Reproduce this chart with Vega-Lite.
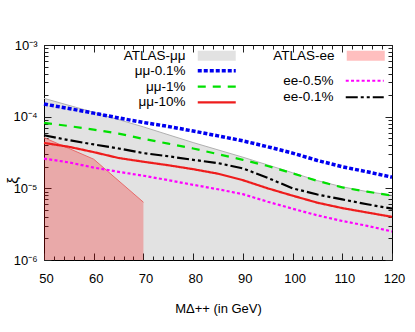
{
  "$schema": "https://vega.github.io/schema/vega-lite/v6.json",
  "width": 348,
  "height": 215,
  "autosize": {"type": "none"},
  "padding": {"left": 44, "top": 45, "right": 23, "bottom": 72},
  "datasets": {
    "atlasmm": [
      {"band": "ATLAS-μμ", "m": 50, "xi": 1.8e-4},
      {"band": "ATLAS-μμ", "m": 60, "xi": 1.15e-4},
      {"band": "ATLAS-μμ", "m": 70, "xi": 7.2e-5},
      {"band": "ATLAS-μμ", "m": 80, "xi": 4.35e-5},
      {"band": "ATLAS-μμ", "m": 90, "xi": 2.72e-5},
      {"band": "ATLAS-μμ", "m": 95, "xi": 2.12e-5},
      {"band": "ATLAS-μμ", "m": 100, "xi": 1.65e-5},
      {"band": "ATLAS-μμ", "m": 105, "xi": 1.28e-5},
      {"band": "ATLAS-μμ", "m": 110, "xi": 1.05e-5},
      {"band": "ATLAS-μμ", "m": 115, "xi": 9.0e-6},
      {"band": "ATLAS-μμ", "m": 120, "xi": 8.0e-6}
    ],
    "atlasee": [
      {"band": "ATLAS-ee", "m": 50, "xi": 5.1e-5},
      {"band": "ATLAS-ee", "m": 60, "xi": 2.55e-5},
      {"band": "ATLAS-ee", "m": 70, "xi": 6.4e-6}
    ],
    "mm": [
      {"series": "μμ-0.1%", "m": 50, "xi": 1.5e-4},
      {"series": "μμ-0.1%", "m": 55, "xi": 1.3e-4},
      {"series": "μμ-0.1%", "m": 60, "xi": 1.12e-4},
      {"series": "μμ-0.1%", "m": 65, "xi": 9.6e-5},
      {"series": "μμ-0.1%", "m": 70, "xi": 8.3e-5},
      {"series": "μμ-0.1%", "m": 75, "xi": 7.3e-5},
      {"series": "μμ-0.1%", "m": 80, "xi": 6.3e-5},
      {"series": "μμ-0.1%", "m": 85, "xi": 5.4e-5},
      {"series": "μμ-0.1%", "m": 90, "xi": 4.6e-5},
      {"series": "μμ-0.1%", "m": 95, "xi": 3.8e-5},
      {"series": "μμ-0.1%", "m": 100, "xi": 3.1e-5},
      {"series": "μμ-0.1%", "m": 105, "xi": 2.45e-5},
      {"series": "μμ-0.1%", "m": 110, "xi": 2.0e-5},
      {"series": "μμ-0.1%", "m": 115, "xi": 1.7e-5},
      {"series": "μμ-0.1%", "m": 120, "xi": 1.43e-5},
      {"series": "μμ-1%", "m": 50, "xi": 8.2e-5},
      {"series": "μμ-1%", "m": 55, "xi": 7.4e-5},
      {"series": "μμ-1%", "m": 60, "xi": 6.6e-5},
      {"series": "μμ-1%", "m": 65, "xi": 5.8e-5},
      {"series": "μμ-1%", "m": 70, "xi": 4.9e-5},
      {"series": "μμ-1%", "m": 75, "xi": 4.2e-5},
      {"series": "μμ-1%", "m": 80, "xi": 3.6e-5},
      {"series": "μμ-1%", "m": 85, "xi": 3.0e-5},
      {"series": "μμ-1%", "m": 90, "xi": 2.5e-5},
      {"series": "μμ-1%", "m": 95, "xi": 2.05e-5},
      {"series": "μμ-1%", "m": 100, "xi": 1.62e-5},
      {"series": "μμ-1%", "m": 105, "xi": 1.27e-5},
      {"series": "μμ-1%", "m": 110, "xi": 1.03e-5},
      {"series": "μμ-1%", "m": 115, "xi": 9.0e-6},
      {"series": "μμ-1%", "m": 120, "xi": 7.9e-6},
      {"series": "μμ-10%", "m": 50, "xi": 4.3e-5},
      {"series": "μμ-10%", "m": 55, "xi": 3.8e-5},
      {"series": "μμ-10%", "m": 60, "xi": 3.2e-5},
      {"series": "μμ-10%", "m": 65, "xi": 2.65e-5},
      {"series": "μμ-10%", "m": 70, "xi": 2.35e-5},
      {"series": "μμ-10%", "m": 75, "xi": 2.1e-5},
      {"series": "μμ-10%", "m": 80, "xi": 1.85e-5},
      {"series": "μμ-10%", "m": 85, "xi": 1.6e-5},
      {"series": "μμ-10%", "m": 90, "xi": 1.3e-5},
      {"series": "μμ-10%", "m": 95, "xi": 1.0e-5},
      {"series": "μμ-10%", "m": 100, "xi": 7.9e-6},
      {"series": "μμ-10%", "m": 105, "xi": 6.3e-6},
      {"series": "μμ-10%", "m": 110, "xi": 5.3e-6},
      {"series": "μμ-10%", "m": 115, "xi": 4.6e-6},
      {"series": "μμ-10%", "m": 120, "xi": 4.0e-6}
    ],
    "ee": [
      {"series": "ee-0.5%", "m": 50, "xi": 2.6e-5},
      {"series": "ee-0.5%", "m": 55, "xi": 2.3e-5},
      {"series": "ee-0.5%", "m": 60, "xi": 1.95e-5},
      {"series": "ee-0.5%", "m": 65, "xi": 1.7e-5},
      {"series": "ee-0.5%", "m": 70, "xi": 1.5e-5},
      {"series": "ee-0.5%", "m": 75, "xi": 1.3e-5},
      {"series": "ee-0.5%", "m": 80, "xi": 1.12e-5},
      {"series": "ee-0.5%", "m": 85, "xi": 9.7e-6},
      {"series": "ee-0.5%", "m": 90, "xi": 8.3e-6},
      {"series": "ee-0.5%", "m": 95, "xi": 6.5e-6},
      {"series": "ee-0.5%", "m": 100, "xi": 5.2e-6},
      {"series": "ee-0.5%", "m": 105, "xi": 4.2e-6},
      {"series": "ee-0.5%", "m": 110, "xi": 3.5e-6},
      {"series": "ee-0.5%", "m": 115, "xi": 3.0e-6},
      {"series": "ee-0.5%", "m": 120, "xi": 2.5e-6},
      {"series": "ee-0.1%", "m": 50, "xi": 5.5e-5},
      {"series": "ee-0.1%", "m": 55, "xi": 4.7e-5},
      {"series": "ee-0.1%", "m": 60, "xi": 4.1e-5},
      {"series": "ee-0.1%", "m": 65, "xi": 3.6e-5},
      {"series": "ee-0.1%", "m": 70, "xi": 3.1e-5},
      {"series": "ee-0.1%", "m": 75, "xi": 2.8e-5},
      {"series": "ee-0.1%", "m": 80, "xi": 2.5e-5},
      {"series": "ee-0.1%", "m": 85, "xi": 2.25e-5},
      {"series": "ee-0.1%", "m": 90, "xi": 1.9e-5},
      {"series": "ee-0.1%", "m": 95, "xi": 1.4e-5},
      {"series": "ee-0.1%", "m": 100, "xi": 1.0e-5},
      {"series": "ee-0.1%", "m": 105, "xi": 8.2e-6},
      {"series": "ee-0.1%", "m": 110, "xi": 7.0e-6},
      {"series": "ee-0.1%", "m": 115, "xi": 6.0e-6},
      {"series": "ee-0.1%", "m": 120, "xi": 5.2e-6}
    ]
  },
  "config": {
    "font": "Liberation Sans",
    "view": {"stroke": "#000", "strokeWidth": 1},
    "axis": {
      "labelFont": "Liberation Sans", "labelFontSize": 13, "labelColor": "#000", "labelFlush": false,
      "tickColor": "#222", "tickWidth": 1, "domain": false, "grid": false,
      "titleFont": "Liberation Sans", "titleFontSize": 13, "titleFontWeight": "normal", "titleColor": "#000"
    },
    "legend": {
      "labelFont": "Liberation Sans", "labelFontSize": 13.5, "labelColor": "#000",
      "padding": 0, "rowPadding": 0, "titlePadding": 0
    }
  },
  "resolve": {
    "scale": {"fill": "independent", "stroke": "independent", "strokeDash": "independent"},
    "axis": {"x": "independent", "y": "independent"}
  },
  "layer": [
    {
      "data": {"name": "atlasmm"},
      "mark": {"type": "area", "opacity": 1},
      "encoding": {
        "x": {"field": "m", "type": "quantitative", "scale": {"domain": [50, 120], "nice": false, "zero": false},
          "axis": {"orient": "bottom", "values": [50, 60, 70, 80, 90, 100, 110, 120], "tickSize": -7, "labelPadding": 19, "labelOffset": 2, "labelFlush": false,
            "title": "MΔ++ (in GeV)", "titleY": 48, "titleBaseline": "middle"}},
        "y": {"field": "xi", "type": "quantitative", "scale": {"type": "log", "domain": [1e-6, 1e-3], "nice": false},
          "axis": {"orient": "left", "values": [1e-6, 1e-5, 1e-4, 1e-3], "tickSize": -7, "labelPadding": 14, "labelFlush": false,
            "labelExpr": "round(log(datum.value)/LN10) == -3 ? '10⁻³' : round(log(datum.value)/LN10) == -4 ? '10⁻⁴' : round(log(datum.value)/LN10) == -5 ? '10⁻⁵' : '10⁻⁶'",
            "title": "ξ", "titleFontSize": 15, "titleX": -32, "titleY": 135, "titleBaseline": "middle"}},
        "y2": {"datum": 1e-6},
        "fill": {"field": "band", "type": "nominal", "scale": {"domain": ["ATLAS-μμ"], "range": ["rgba(0,0,0,0.115)"]},
          "legend": {"orient": "none", "legendX": 154, "legendY": 4, "title": null, "direction": "vertical",
            "symbolType": "M-4.75,-1.25H4.75V1.25H-4.75Z", "symbolSize": 64, "symbolOffset": 12, "labelOffset": -38, "labelAlign": "right", "labelLimit": 200,
            "encode": {"symbols": {"update": {"stroke": {"value": "#b8b8b8"}, "strokeWidth": {"value": 1}, "opacity": {"value": 1}}}}}}
      }
    },
    {
      "data": {"name": "atlasee"},
      "mark": {"type": "area", "opacity": 1},
      "encoding": {
        "x": {"field": "m", "type": "quantitative", "scale": {"domain": [50, 120], "nice": false, "zero": false},
          "axis": {"orient": "bottom", "values": [52, 54, 56, 58, 62, 64, 66, 68, 72, 74, 76, 78, 82, 84, 86, 88, 92, 94, 96, 98, 102, 104, 106, 108, 112, 114, 116, 118], "tickSize": -4, "labels": false, "title": null}},
        "y": {"field": "xi", "type": "quantitative", "scale": {"type": "log", "domain": [1e-6, 1e-3], "nice": false},
          "axis": {"orient": "left", "values": [2e-6, 3e-6, 4e-6, 5e-6, 6e-6, 7e-6, 8e-6, 9e-6, 2e-5, 3e-5, 4e-5, 5e-5, 6e-5, 7e-5, 8e-5, 9e-5, 2e-4, 3e-4, 4e-4, 5e-4, 6e-4, 7e-4, 8e-4, 9e-4], "tickSize": -4, "labels": false, "title": null}},
        "y2": {"datum": 1e-6},
        "fill": {"field": "band", "type": "nominal", "scale": {"domain": ["ATLAS-ee"], "range": ["rgba(255,0,0,0.25)"]},
          "legend": {"orient": "none", "legendX": 303, "legendY": 4, "title": null, "direction": "vertical",
            "symbolType": "M-4.75,-1.25H4.75V1.25H-4.75Z", "symbolSize": 64, "symbolOffset": 12, "labelOffset": -38, "labelAlign": "right", "labelLimit": 200,
            "encode": {"symbols": {"update": {"stroke": {"value": "#f08080"}, "strokeWidth": {"value": 1}, "opacity": {"value": 1}}}}}}
      }
    },
    {
      "data": {"name": "atlasmm"},
      "mark": {"type": "line", "color": "#b0b0b0", "strokeWidth": 1},
      "encoding": {
        "x": {"field": "m", "type": "quantitative", "scale": {"domain": [50, 120], "nice": false, "zero": false},
          "axis": {"orient": "top", "values": [50, 60, 70, 80, 90, 100, 110, 120], "tickSize": -7, "labels": false, "title": null}},
        "y": {"field": "xi", "type": "quantitative", "scale": {"type": "log", "domain": [1e-6, 1e-3], "nice": false},
          "axis": {"orient": "right", "values": [1e-6, 1e-5, 1e-4, 1e-3], "tickSize": -7, "labels": false, "title": null}}
      }
    },
    {
      "data": {"name": "atlasee"},
      "mark": {"type": "line", "color": "#e86a6a", "strokeWidth": 1},
      "encoding": {
        "x": {"field": "m", "type": "quantitative", "scale": {"domain": [50, 120], "nice": false, "zero": false},
          "axis": {"orient": "top", "values": [52, 54, 56, 58, 62, 64, 66, 68, 72, 74, 76, 78, 82, 84, 86, 88, 92, 94, 96, 98, 102, 104, 106, 108, 112, 114, 116, 118], "tickSize": -4, "labels": false, "title": null}},
        "y": {"field": "xi", "type": "quantitative", "scale": {"type": "log", "domain": [1e-6, 1e-3], "nice": false},
          "axis": {"orient": "right", "values": [2e-6, 3e-6, 4e-6, 5e-6, 6e-6, 7e-6, 8e-6, 9e-6, 2e-5, 3e-5, 4e-5, 5e-5, 6e-5, 7e-5, 8e-5, 9e-5, 2e-4, 3e-4, 4e-4, 5e-4, 6e-4, 7e-4, 8e-4, 9e-4], "tickSize": -4, "labels": false, "title": null}}
      }
    },
    {
      "data": {"name": "mm"},
      "mark": {"type": "line"},
      "encoding": {
        "x": {"field": "m", "type": "quantitative", "scale": {"domain": [50, 120], "nice": false, "zero": false}, "axis": null},
        "y": {"field": "xi", "type": "quantitative", "scale": {"type": "log", "domain": [1e-6, 1e-3], "nice": false}, "axis": null},
        "stroke": {"field": "series", "type": "nominal", "scale": {"domain": ["μμ-0.1%", "μμ-1%", "μμ-10%"], "range": ["#0000f0", "#00e000", "#ee1c1c"]},
          "legend": {"orient": "none", "legendX": 154, "legendY": 19, "title": null, "direction": "vertical", "rowPadding": 0.8,
            "symbolType": "M-4.75,0H4.75", "symbolSize": 64, "symbolOffset": 12, "labelOffset": -38, "labelAlign": "right", "labelLimit": 200,
            "encode": {"symbols": {"update": {"strokeWidth": {"signal": "datum.value === 'μμ-0.1%' ? 3.5 : 2.2"}}}}}},
        "strokeDash": {"field": "series", "type": "nominal", "scale": {"domain": ["μμ-0.1%", "μμ-1%", "μμ-10%"], "range": [[4, 2], [8, 7], [1, 0]]},
          "legend": {"orient": "none", "legendX": 154, "legendY": 19, "title": null, "direction": "vertical", "rowPadding": 0.8,
            "symbolType": "M-4.75,0H4.75", "symbolSize": 64, "symbolOffset": 12, "labelOffset": -38, "labelAlign": "right", "labelLimit": 200}},
        "strokeWidth": {"condition": {"test": "datum.series === 'μμ-0.1%'", "value": 3.5}, "value": 2.2}
      }
    },
    {
      "data": {"name": "ee"},
      "mark": {"type": "line", "strokeWidth": 2.2},
      "encoding": {
        "x": {"field": "m", "type": "quantitative", "scale": {"domain": [50, 120], "nice": false, "zero": false}, "axis": null},
        "y": {"field": "xi", "type": "quantitative", "scale": {"type": "log", "domain": [1e-6, 1e-3], "nice": false}, "axis": null},
        "stroke": {"field": "series", "type": "nominal", "scale": {"domain": ["ee-0.5%", "ee-0.1%"], "range": ["#ff00ff", "#000000"]},
          "legend": {"orient": "none", "legendX": 302, "legendY": 29, "title": null, "direction": "vertical", "rowPadding": 1.5,
            "symbolType": "M-4.75,0H4.75", "symbolSize": 64, "symbolOffset": 12, "labelOffset": -38, "labelAlign": "right", "labelLimit": 200, "symbolStrokeWidth": 2.2}},
        "strokeDash": {"field": "series", "type": "nominal", "scale": {"domain": ["ee-0.5%", "ee-0.1%"], "range": [[3, 2.3], [12, 3, 3, 3, 3, 3]]},
          "legend": {"orient": "none", "legendX": 302, "legendY": 29, "title": null, "direction": "vertical", "rowPadding": 1.5,
            "symbolType": "M-4.75,0H4.75", "symbolSize": 64, "symbolOffset": 12, "labelOffset": -38, "labelAlign": "right", "labelLimit": 200, "symbolStrokeWidth": 2.2}}
      }
    },
    {
      "mark": {"type": "text", "text": "Normal Hierarchy", "font": "Liberation Sans", "fontSize": 14, "color": "#222", "align": "center", "baseline": "middle"},
      "encoding": {
        "x": {"datum": 90, "type": "quantitative", "scale": {"domain": [50, 120], "nice": false, "zero": false}, "axis": null},
        "y": {"datum": 2.03e-6, "type": "quantitative", "scale": {"type": "log", "domain": [1e-6, 1e-3], "nice": false}, "axis": null}
      }
    }
  ]
}
